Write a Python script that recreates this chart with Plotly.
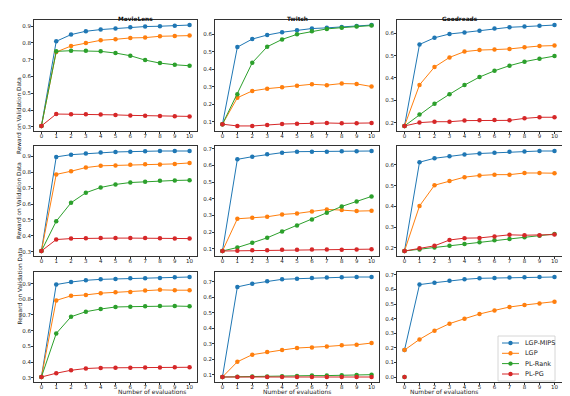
import plotly.graph_objects as go
from plotly.subplots import make_subplots

# x axis: number of evaluations
evals = list(range(11))

datasets = ["MovieLens", "Twitch", "Goodreads"]
s_labels = ["1", "10", "100"]
methods = ["LGP-MIPS", "LGP", "PL-Rank", "PL-PG"]
colors = ["#1f77b4", "#ff7f0e", "#2ca02c", "#d62728"]

# each panel: [LGP-MIPS, LGP, PL-Rank, PL-PG]
movielens_s1 = [
    [0.305, 0.81, 0.85, 0.87, 0.88, 0.886, 0.894, 0.898, 0.90, 0.903, 0.907],
    [0.305, 0.746, 0.782, 0.80, 0.816, 0.822, 0.83, 0.832, 0.84, 0.842, 0.844],
    [0.305, 0.75, 0.754, 0.754, 0.75, 0.74, 0.724, 0.698, 0.68, 0.67, 0.664],
    [0.305, 0.376, 0.375, 0.375, 0.374, 0.371, 0.368, 0.366, 0.365, 0.363, 0.362],
]
twitch_s1 = [
    [0.087, 0.527, 0.573, 0.596, 0.612, 0.623, 0.633, 0.637, 0.642, 0.648, 0.653],
    [0.087, 0.238, 0.277, 0.29, 0.298, 0.306, 0.315, 0.31, 0.319, 0.317, 0.302],
    [0.087, 0.258, 0.438, 0.529, 0.571, 0.60, 0.617, 0.631, 0.638, 0.644, 0.65],
    [0.087, 0.077, 0.077, 0.083, 0.088, 0.09, 0.094, 0.094, 0.092, 0.092, 0.094],
]
goodreads_s1 = [
    [0.185, 0.55, 0.58, 0.597, 0.604, 0.612, 0.621, 0.627, 0.63, 0.634, 0.637],
    [0.185, 0.369, 0.449, 0.492, 0.518, 0.525, 0.527, 0.53, 0.537, 0.543, 0.545],
    [0.185, 0.236, 0.284, 0.327, 0.368, 0.404, 0.432, 0.455, 0.473, 0.486, 0.498],
    [0.185, 0.20, 0.204, 0.204, 0.209, 0.21, 0.212, 0.21, 0.219, 0.224, 0.224],
]
movielens_s10 = [
    [0.305, 0.896, 0.91, 0.917, 0.923, 0.927, 0.929, 0.932, 0.933, 0.933, 0.933],
    [0.305, 0.786, 0.806, 0.829, 0.84, 0.842, 0.846, 0.85, 0.848, 0.852, 0.858],
    [0.305, 0.492, 0.608, 0.671, 0.704, 0.723, 0.735, 0.74, 0.746, 0.748, 0.75],
    [0.305, 0.377, 0.383, 0.385, 0.386, 0.386, 0.386, 0.386, 0.385, 0.384, 0.383],
]
twitch_s10 = [
    [0.087, 0.636, 0.652, 0.666, 0.676, 0.682, 0.682, 0.682, 0.684, 0.684, 0.686],
    [0.087, 0.28, 0.286, 0.292, 0.306, 0.312, 0.324, 0.336, 0.332, 0.326, 0.328],
    [0.087, 0.108, 0.136, 0.166, 0.204, 0.24, 0.276, 0.316, 0.354, 0.384, 0.414],
    [0.087, 0.088, 0.092, 0.092, 0.094, 0.094, 0.096, 0.096, 0.094, 0.096, 0.098],
]
goodreads_s10 = [
    [0.185, 0.613, 0.632, 0.642, 0.65, 0.655, 0.659, 0.663, 0.664, 0.667, 0.667],
    [0.185, 0.402, 0.502, 0.523, 0.541, 0.549, 0.553, 0.553, 0.561, 0.561, 0.56],
    [0.185, 0.192, 0.202, 0.21, 0.219, 0.227, 0.237, 0.243, 0.251, 0.259, 0.267],
    [0.185, 0.198, 0.21, 0.238, 0.247, 0.248, 0.255, 0.263, 0.261, 0.261, 0.264],
]
movielens_s100 = [
    [0.305, 0.894, 0.91, 0.921, 0.927, 0.929, 0.934, 0.934, 0.936, 0.94, 0.942],
    [0.305, 0.793, 0.822, 0.828, 0.839, 0.845, 0.847, 0.856, 0.86, 0.858, 0.858],
    [0.305, 0.582, 0.689, 0.721, 0.738, 0.751, 0.753, 0.755, 0.757, 0.757, 0.755],
    [0.305, 0.329, 0.348, 0.359, 0.363, 0.364, 0.364, 0.365, 0.365, 0.367, 0.367],
]
twitch_s100 = [
    [0.087, 0.668, 0.689, 0.704, 0.717, 0.721, 0.725, 0.728, 0.73, 0.732, 0.732],
    [0.087, 0.185, 0.231, 0.248, 0.261, 0.274, 0.278, 0.284, 0.291, 0.295, 0.306],
    [0.087, 0.089, 0.09, 0.09, 0.092, 0.094, 0.096, 0.096, 0.098, 0.10, 0.102],
    [0.087, 0.087, 0.087, 0.087, 0.087, 0.087, 0.087, 0.087, 0.087, 0.087, 0.087],
]
goodreads_s100 = [
    [0.185, 0.634, 0.647, 0.661, 0.67, 0.677, 0.679, 0.682, 0.684, 0.686, 0.686],
    [0.185, 0.258, 0.318, 0.366, 0.40, 0.432, 0.457, 0.48, 0.494, 0.505, 0.517],
    [0.0, None, None, None, None, None, None, None, None, None, None],
    [0.0, None, None, None, None, None, None, None, None, None, None],
]

panels = [
    [movielens_s1, twitch_s1, goodreads_s1],
    [movielens_s10, twitch_s10, goodreads_s10],
    [movielens_s100, twitch_s100, goodreads_s100],
]

W, H = 570, 396
# plot areas in pixels (left, right) and (top, bottom)
col_px = [(26, 189), (207, 371), (389, 554)]
row_px = [(12, 123), (138, 248), (264, 374)]

def px(x, y):
    return x / W, 1 - y / H

fig = make_subplots(rows=3, cols=3)

for r in range(3):
    for c in range(3):
        series = panels[r][c]
        for k in range(4):
            fig.add_scatter(
                x=evals,
                y=series[k],
                mode='lines+markers',
                name=methods[k],
                line=dict(color=colors[k], width=1),
                marker=dict(color=colors[k], size=4.5),
                showlegend=False,
                row=r + 1, col=c + 1
            )
        vals = [v for s in series for v in s if v is not None]
        lo, hi = min(vals), max(vals)
        pad = 0.05 * (hi - lo)
        fig.update_yaxes(range=[lo - pad, hi + pad], row=r + 1, col=c + 1)

axis_style = dict(
    showline=True, mirror=True, linecolor='#333', linewidth=0.8,
    ticks='outside', ticklen=2, tickwidth=0.7, tickcolor='#333',
    showgrid=False, zeroline=False,
    tickfont=dict(size=5.5, color='#222'),
)
fig.update_xaxes(axis_style, tickmode='array', tickvals=evals, range=[-0.5, 10.5],
                 ticklabelstandoff=-3)
fig.update_yaxes(axis_style, dtick=0.1, tickformat='.1f', ticklabelstandoff=-1)

# place the panels like the original matplotlib grid
for r in range(3):
    for c in range(3):
        idx = r * 3 + c + 1
        sfx = '' if idx == 1 else str(idx)
        x0, x1 = col_px[c]
        t, b = row_px[r]
        fig.layout['xaxis' + sfx].domain = [x0 / W, x1 / W]
        fig.layout['yaxis' + sfx].domain = [1 - b / H, 1 - t / H]

annotations = []
for c, name in enumerate(datasets):
    x0, x1 = col_px[c]
    annotations.append(dict(
        text=f"<b>{name}</b>", x=(x0 + x1) / 2 / W, y=1 - 6 / H,
        xref='paper', yref='paper', showarrow=False,
        font=dict(size=5.8, color='#111')
    ))
    annotations.append(dict(
        text="Number of evaluations", x=(x0 + x1) / 2 / W, y=1 - 389 / H,
        xref='paper', yref='paper', showarrow=False,
        font=dict(size=6, color='#222')
    ))
for r, s in enumerate(s_labels):
    t, b = row_px[r]
    annotations.append(dict(
        text="Reward on Validation Data", x=6 / W, y=1 - (t + b) / 2 / H,
        xref='paper', yref='paper', showarrow=False, textangle=-90,
        font=dict(size=5.8, color='#222')
    ))
    annotations.append(dict(
        text=f"<i>S</i> = {s}", x=565 / W, y=1 - (t + b) / 2 / H,
        xref='paper', yref='paper', showarrow=False, textangle=-90,
        font=dict(size=6.5, color='#222')
    ))

# compact matplotlib-like legend inside the bottom-right panel
shapes = []
bx0, by0 = px(490, 328)
bx1, by1 = px(547, 373)
shapes.append(dict(type='rect', xref='paper', yref='paper',
                   x0=bx0, x1=bx1, y0=by1, y1=by0,
                   line=dict(color='#ccc', width=0.8),
                   fillcolor='rgba(255,255,255,0.85)'))
entry_y = [335, 345.3, 355.6, 366]
for k, name in enumerate(methods):
    ey = entry_y[k]
    lx0, ly = px(494, ey)
    lx1, _ = px(511, ey)
    shapes.append(dict(type='line', xref='paper', yref='paper',
                       x0=lx0, x1=lx1, y0=ly, y1=ly,
                       line=dict(color=colors[k], width=1)))
    cx0, cy0 = px(502.5 - 2.2, ey - 2.2)
    cx1, cy1 = px(502.5 + 2.2, ey + 2.2)
    shapes.append(dict(type='circle', xref='paper', yref='paper',
                       x0=cx0, x1=cx1, y0=cy1, y1=cy0,
                       line=dict(width=0), fillcolor=colors[k]))
    tx, ty = px(515, ey)
    annotations.append(dict(
        text=name, x=tx, y=ty, xref='paper', yref='paper',
        xanchor='left', yanchor='middle', showarrow=False,
        font=dict(size=6.5, color='#222')
    ))

fig.update_layout(
    width=W, height=H,
    margin=dict(l=0, r=0, t=0, b=0),
    plot_bgcolor='white', paper_bgcolor='white',
    font=dict(family='DejaVu Sans', color='#222'),
    annotations=annotations,
    shapes=shapes,
    showlegend=False,
)

fig.write_html("out.html")
